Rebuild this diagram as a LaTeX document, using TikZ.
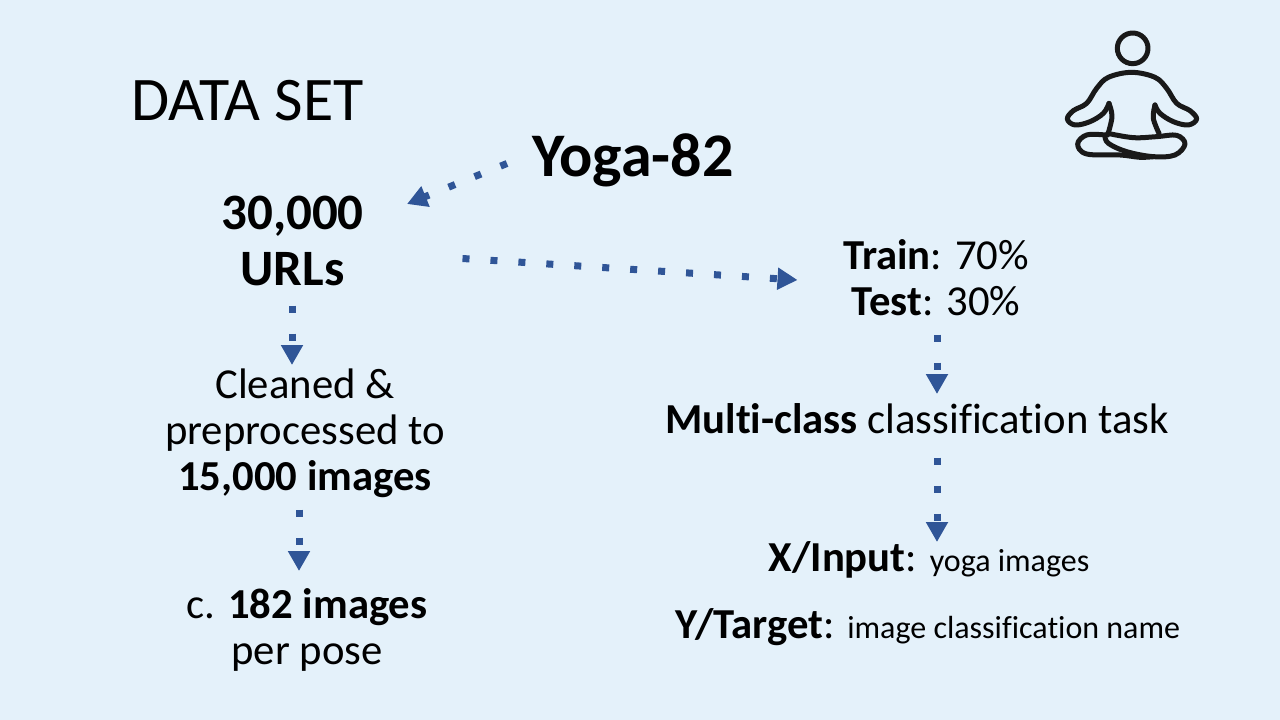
\documentclass[tikz,border=0pt]{standalone}
\usepackage{fontspec}
\setmainfont{Carlito}[RawFeature={-liga}]
\usetikzlibrary{arrows.meta}
\definecolor{bgc}{HTML}{E4F1FA}
\definecolor{arrc}{HTML}{2F5597}
\tikzset{
 txt/.style={inner sep=0pt,align=center,text=black,font=\fontsize{#1}{#1}\selectfont},
 body/.style={inner sep=0pt,align=center,text=black,font=\fontsize{42.7}{46}\selectfont},
 conn/.style={draw=arrc,line width=7pt,dash pattern=on 7pt off 21pt,-{Triangle[length=20pt,width=21pt]}},
 iconline/.style={draw=black!90,line width=5pt,line cap=round,line join=round}
}
\begin{document}
\begin{tikzpicture}[x=1pt,y=-1pt]
\useasboundingbox (0,0) rectangle (1280,720);
\fill[bgc] (0,0) rectangle (1280,720);
\node[txt=62] (title) at (247.5,101) {DATA SET};
\node[txt=62] (yoga) at (633,160.5) {\bfseries Yoga-82};
\node[inner sep=0pt,align=center,font=\fontsize{51}{56}\selectfont] (urls) at (292.5,241) {\bfseries 30,000\\ \bfseries URLs};
\node[body] (clean) at (305,433) {Cleaned \&\\ preprocessed to\\ \textbf{15,000 images}};
\node[body] (perpose) at (307,630) {c. \textbf{182 images}\\ per pose};
\node[body] (split) at (936,277.5) {\textbf{Train}: 70\%\\ \textbf{Test}: 30\%};
\node[body] (task) at (917,418.5) {\textbf{Multi-class} classification task};
\node[body] (xin) at (929,560) {\textbf{X/Input}: \fontsize{32}{32}\selectfont yoga images};
\node[body] (ytar) at (928,627.5) {\textbf{Y/Target}: \fontsize{32}{32}\selectfont image classification name};
\coordinate (a1) at (507,163.5); \coordinate (a2) at (407,204);
\coordinate (b1) at (462.5,258.5); \coordinate (b2) at (797.5,280);
\coordinate (c1) at (292,305.5); \coordinate (c2) at (292,365);
\coordinate (d1) at (299,509.5); \coordinate (d2) at (299,571);
\coordinate (e1) at (937,334.5); \coordinate (e2) at (937,394);
\coordinate (f1) at (937,457.5); \coordinate (f2) at (937,542);
\draw[conn] (a1) -- (a2);
\draw[conn] (b1) -- (b2);
\draw[conn] (c1) -- (c2);
\draw[conn] (d1) -- (d2);
\draw[conn] (e1) -- (e2);
\draw[conn] (f1) -- (f2);
\begin{scope}[shift={(1040,20)},x=0.3333pt,y=-0.3333pt]
\draw[iconline] (278,85) circle[radius=46];
\draw[iconline] plot[smooth,tension=0.6] coordinates {(207,250) (190,280) (150,305) (105,315) (82,297) (100,272) (140,250) (170,205) (205,172) (275,157) (345,172) (380,205) (410,250) (450,272) (470,297) (445,315) (400,305) (360,280) (345,255)};
\draw[iconline] plot[smooth,tension=0.6] coordinates {(207,250) (216,290) (203,345)};
\draw[iconline] plot[smooth,tension=0.6] coordinates {(345,255) (340,295) (357,340)};
\draw[iconline] plot[smooth,tension=0.6] coordinates {(203,340) (280,353) (350,350) (410,346) (435,372) (405,405) (340,410) (260,395) (205,370) (195,348)};
\draw[iconline] plot[smooth,tension=0.6] coordinates {(195,345) (140,345) (113,372) (140,402) (240,405) (300,412) (340,410)};
\end{scope}
\end{tikzpicture}
\end{document}
